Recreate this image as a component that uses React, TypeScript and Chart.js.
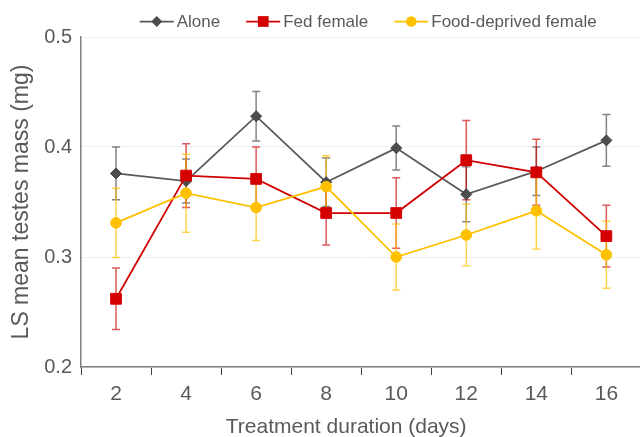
import React, { useEffect, useRef } from 'react';
import { Chart, registerables } from 'chart.js';

Chart.register(...registerables);

const categories = ['2', '4', '6', '8', '10', '12', '14', '16'];
const seriesNames = ['Alone', 'Fed female', 'Food-deprived female'];
const alone = [0.376, 0.369, 0.428, 0.368, 0.399, 0.357, 0.378, 0.406];
const aloneErr = [0.024, 0.02, 0.0225, 0.022, 0.02, 0.025, 0.022, 0.0235];
const fed = [0.262, 0.374, 0.371, 0.34, 0.34, 0.388, 0.377, 0.319];
const fedErr = [0.028, 0.029, 0.029, 0.029, 0.032, 0.036, 0.03, 0.028];
const food = [0.331, 0.358, 0.345, 0.364, 0.3, 0.32, 0.342, 0.302];
const foodErr = [0.0315, 0.0355, 0.03, 0.028, 0.03, 0.028, 0.035, 0.0305];
const yMin = 0.2;
const yMax = 0.5;
const yStep = 0.1;
const xTitle = 'Treatment duration (days)';
const yTitle = 'LS mean testes mass (mg)';

const FONT = '"Liberation Sans", Arial, Helvetica, sans-serif';
const TEXT = '#595959';

function drawMarker(ctx: CanvasRenderingContext2D, style: string, r: number, x: number, y: number) {
  ctx.beginPath();
  if (style === 'rectRot') {
    ctx.moveTo(x, y - r);
    ctx.lineTo(x + r, y);
    ctx.lineTo(x, y + r);
    ctx.lineTo(x - r, y);
    ctx.closePath();
  } else if (style === 'rect') {
    const h = r * Math.SQRT1_2;
    ctx.rect(x - h, y - h, 2 * h, 2 * h);
  } else {
    ctx.arc(x, y, r, 0, Math.PI * 2);
  }
  ctx.fill();
}

const errorBarsPlugin = {
  id: 'errorBars',
  beforeDatasetsDraw(chart: any) {
    const ctx = chart.ctx;
    const ys = chart.scales.y;
    chart.data.datasets.forEach((ds: any, i: number) => {
      const meta = chart.getDatasetMeta(i);
      ctx.save();
      ctx.strokeStyle = ds.errorColor;
      ctx.lineWidth = 1.5;
      meta.data.forEach((pt: any, j: number) => {
        const v = ds.data[j];
        const e = ds.errors[j];
        const yt = ys.getPixelForValue(v + e);
        const yb = ys.getPixelForValue(v - e);
        const x = pt.x;
        ctx.beginPath();
        ctx.moveTo(x, yt);
        ctx.lineTo(x, yb);
        ctx.moveTo(x - 4, yt);
        ctx.lineTo(x + 4, yt);
        ctx.moveTo(x - 4, yb);
        ctx.lineTo(x + 4, yb);
        ctx.stroke();
      });
      ctx.restore();
    });
  },
};

const xTitlePlugin = {
  id: 'xTitle',
  afterDraw(chart: any) {
    const ctx = chart.ctx;
    const ca = chart.chartArea;
    ctx.save();
    ctx.font = `21px ${FONT}`;
    ctx.fillStyle = TEXT;
    ctx.textAlign = 'center';
    ctx.textBaseline = 'middle';
    ctx.fillText(xTitle, (ca.left + ca.right) / 2 - 15, 427);
    ctx.restore();
  },
};

const legendPlugin = {
  id: 'customLegend',
  afterDraw(chart: any) {
    const ctx = chart.ctx;
    const dss = [...chart.data.datasets].sort((a: any, b: any) => a.legendIndex - b.legendIndex);
    ctx.save();
    ctx.font = `17px ${FONT}`;
    const symW = 34;
    const gapST = 3;
    const gapItem = 26;
    const widths = dss.map((d: any) => ctx.measureText(d.label).width);
    let total = 0;
    widths.forEach((w: number, i: number) => {
      total += symW + gapST + w + (i < widths.length - 1 ? gapItem : 0);
    });
    const ca = chart.chartArea;
    const cx = (ca.left + ca.right) / 2 + 7;
    let x = cx - total / 2;
    const y = 21.5;
    dss.forEach((d: any, i: number) => {
      ctx.strokeStyle = d.borderColor;
      ctx.lineWidth = 1.75;
      ctx.beginPath();
      ctx.moveTo(x, y);
      ctx.lineTo(x + symW, y);
      ctx.stroke();
      ctx.fillStyle = d.pointBackgroundColor;
      drawMarker(ctx, d.pointStyle, d.pointRadius, x + symW / 2, y);
      ctx.fillStyle = TEXT;
      ctx.textBaseline = 'middle';
      ctx.textAlign = 'left';
      ctx.fillText(d.label, x + symW + gapST, y + 1);
      x += symW + gapST + widths[i] + gapItem;
    });
    ctx.restore();
  },
};

export default function App() {
  const ref = useRef<HTMLCanvasElement | null>(null);
  useEffect(() => {
    if (!ref.current) return;
    const chart = new Chart(ref.current, {
      type: 'line',
      data: {
        labels: categories,
        datasets: [
          {
            label: seriesNames[0],
            data: alone,
            errors: aloneErr,
            errorColor: 'rgba(110,110,110,0.85)',
            borderColor: '#595959',
            backgroundColor: '#4d4d4d',
            pointBackgroundColor: '#4d4d4d',
            pointBorderColor: '#3f3f3f',
            pointBorderWidth: 1,
            pointStyle: 'rectRot',
            pointRadius: 5.5,
            borderWidth: 1.75,
            order: 3,
            legendIndex: 0,
          } as any,
          {
            label: seriesNames[1],
            data: fed,
            errors: fedErr,
            errorColor: 'rgba(208,0,0,0.65)',
            borderColor: '#d00000',
            backgroundColor: '#d40000',
            pointBackgroundColor: '#d40000',
            pointBorderColor: '#d40000',
            pointBorderWidth: 1,
            pointStyle: 'rect',
            pointRadius: 7.6,
            borderWidth: 1.75,
            order: 2,
            legendIndex: 1,
          } as any,
          {
            label: seriesNames[2],
            data: food,
            errors: foodErr,
            errorColor: 'rgba(255,192,0,0.7)',
            borderColor: '#ffc000',
            backgroundColor: '#ffc000',
            pointBackgroundColor: '#ffc000',
            pointBorderColor: '#ffc000',
            pointBorderWidth: 1,
            pointStyle: 'circle',
            pointRadius: 5.3,
            borderWidth: 1.75,
            order: 1,
            legendIndex: 2,
          } as any,
        ],
      },
      options: {
        animation: false,
        responsive: false,
        devicePixelRatio: 1,
        layout: { padding: { left: 0, right: 7, top: 37, bottom: 0 } },
        plugins: {
          legend: { display: false },
          tooltip: { enabled: false },
        },
        scales: {
          x: {
            type: 'category',
            offset: true,
            grid: {
              offset: true,
              drawOnChartArea: false,
              drawTicks: true,
              tickLength: 8,
              color: '#404040',
              lineWidth: 1,
            },
            border: { color: '#808080', width: 1.5 },
            ticks: { color: TEXT, font: { family: FONT, size: 21 }, padding: 7 },
            title: { display: false },
            afterFit: (s: any) => {
              s.height = 70;
            },
          },
          y: {
            min: yMin,
            max: yMax,
            grid: { color: '#eeeeee', lineWidth: 1, drawTicks: false },
            border: { color: '#808080', width: 1.5 },
            ticks: {
              stepSize: yStep,
              color: TEXT,
              font: { family: FONT, size: 20 },
              padding: 9,
              callback: (v: any) => Number(v).toFixed(1),
            },
            title: {
              display: true,
              text: yTitle,
              color: TEXT,
              font: { family: FONT, size: 23 },
              padding: { top: 8, bottom: 0 },
            },
            afterFit: (s: any) => {
              s.width = 81;
            },
          },
        },
      } as any,
      plugins: [errorBarsPlugin, legendPlugin, xTitlePlugin],
    });
    return () => chart.destroy();
  }, []);
  return (
    <div style={{ position: 'absolute', left: 0, top: 0, width: 640, height: 437, overflow: 'hidden', background: '#fff' }}>
      <canvas ref={ref} width={650} height={437} style={{ display: 'block' }} />
    </div>
  );
}
